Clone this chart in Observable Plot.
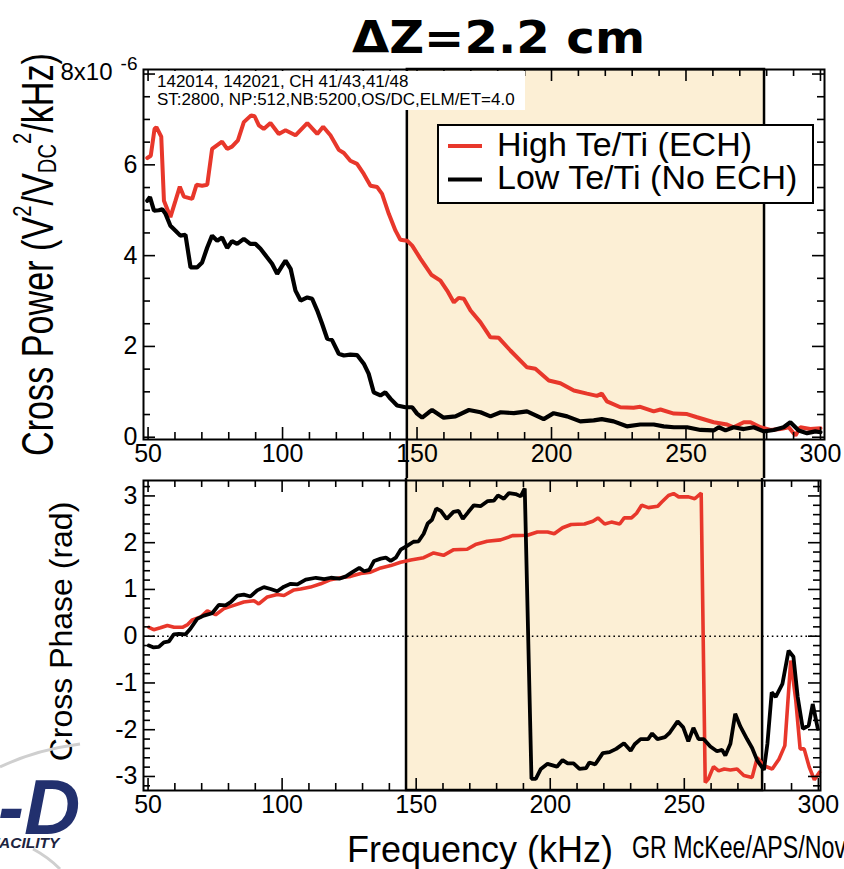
<!DOCTYPE html>
<html>
<head>
<meta charset="utf-8">
<script src="https://cdn.jsdelivr.net/npm/d3@7"></script>
<script src="https://cdn.jsdelivr.net/npm/@observablehq/plot@0.6"></script>
<style>
  body { margin: 0; background: #fff; }
  #chart { position: relative; width: 844px; height: 869px; overflow: hidden; background: #fff;
           font-family: "Liberation Sans", Arial, Helvetica, sans-serif; }
  #chart > svg { position: absolute; left: 0; }
</style>
</head>
<body>
<div id="chart"></div>
<script>
// ---- Data: cross power (units of 1e-6 V^2/V_DC^2/kHz) and cross phase (rad) vs frequency (kHz)
const seriesNames = ["High Te/Ti (ECH)", "Low Te/Ti (No ECH)"];
const seriesColors = ["#e8372b", "#000000"];

const powerEch = [[49.7,6.15],[51.0,6.2],[52.4,6.79],[53.1,6.83],[54.9,6.62],[55.9,5.21],[58.3,4.85],[60.2,5.21],[61.8,5.52],[63.3,5.30],[66.4,5.25],[68.0,5.56],[70.1,5.54],[72.0,5.56],[73.8,6.35],[77.5,6.51],[79.4,6.35],[81.2,6.40],[83.4,6.54],[85.6,6.94],[88.3,7.09],[89.6,7.07],[91.2,6.87],[93.0,6.79],[95.5,6.92],[98.6,6.68],[101.1,6.76],[104.8,6.65],[109.2,6.92],[112.9,6.68],[115.1,6.84],[117.8,6.65],[120.9,6.33],[122.8,6.26],[125.2,6.09],[127.7,6.02],[130.2,5.80],[132.7,5.54],[135.2,5.51],[137.0,5.36],[139.5,4.92],[142.0,4.55],[143.8,4.35],[146.3,4.33],[148.2,4.22],[151.3,3.93],[155.3,3.58],[158.7,3.45],[161.2,3.23],[163.7,2.97],[165.5,3.07],[167.4,3.05],[169.9,2.79],[173.6,2.53],[177.3,2.20],[180.4,2.19],[184.7,1.91],[190.9,1.54],[194.0,1.51],[199.0,1.25],[203.3,1.19],[208.3,1.03],[213.2,0.96],[216.9,0.91],[218.7,0.96],[220.6,0.79],[225.6,0.66],[230.5,0.65],[233.0,0.67],[238.0,0.57],[240.5,0.61],[245.5,0.52],[250.4,0.51],[254.1,0.44],[260.3,0.33],[265.3,0.28],[267.7,0.22],[271.5,0.33],[274.0,0.33],[277.7,0.22],[281.4,0.16],[285.1,0.18],[288.2,0.22],[290.7,0.04],[292.5,0.22],[296.2,0.18],[300.0,0.20]];

const powerNoEch = [[49.7,5.21],[50.7,5.29],[52.2,4.99],[54.0,5.0],[55.3,5.02],[56.5,4.92],[58.3,4.66],[60.2,4.55],[62.0,4.44],[63.9,4.46],[65.8,3.74],[68.2,3.74],[70.1,3.85],[72.0,4.18],[73.8,4.44],[75.7,4.33],[77.5,4.40],[79.4,4.17],[81.2,4.32],[83.1,4.26],[85.6,4.37],[88.0,4.26],[89.9,4.26],[91.8,4.15],[94.3,3.96],[96.1,3.82],[98.0,3.60],[99.9,3.78],[101.1,3.89],[103.0,3.71],[104.8,3.23],[106.7,3.01],[109.2,3.08],[111.0,3.05],[112.9,2.79],[114.7,2.50],[116.6,2.17],[118.4,2.14],[120.9,1.84],[122.8,1.80],[125.2,1.82],[127.7,1.81],[130.2,1.62],[132.0,1.40],[133.9,0.99],[136.4,0.92],[138.2,0.99],[140.1,0.85],[142.6,0.70],[145.7,0.66],[148.2,0.66],[150.0,0.52],[151.9,0.43],[154.4,0.55],[155.6,0.60],[159.9,0.43],[164.3,0.46],[169.3,0.60],[173.6,0.55],[177.3,0.46],[181.1,0.55],[186.0,0.53],[190.9,0.57],[197.1,0.40],[200.8,0.53],[205.8,0.46],[210.7,0.35],[215.7,0.37],[218.7,0.40],[223.1,0.35],[228.0,0.24],[233.0,0.28],[238.0,0.28],[241.7,0.24],[245.5,0.22],[250.4,0.22],[255.4,0.16],[260.3,0.15],[262.2,0.22],[264.7,0.15],[267.7,0.22],[271.5,0.18],[275.2,0.22],[278.9,0.13],[282.6,0.16],[286.3,0.22],[288.8,0.33],[291.9,0.15],[295.0,0.09],[298.1,0.13],[300.0,0.11]];

const phaseEch = [[50.3,0.19],[52.1,0.14],[54.6,0.18],[57.2,0.23],[59.7,0.19],[62.8,0.19],[64.6,0.24],[66.5,0.35],[69.6,0.41],[72.1,0.54],[75.2,0.46],[78.3,0.59],[82.0,0.66],[85.7,0.73],[89.5,0.76],[91.3,0.69],[94.5,0.84],[98.2,0.89],[100.7,0.87],[104.4,0.99],[106.9,1.01],[110.6,1.05],[114.4,1.12],[118.1,1.21],[121.8,1.25],[125.6,1.28],[129.3,1.34],[133.0,1.37],[136.8,1.46],[140.5,1.51],[144.2,1.58],[148.0,1.63],[152.8,1.68],[156.5,1.78],[160.2,1.73],[164.0,1.85],[169.0,1.86],[172.1,1.96],[176.5,2.03],[181.5,2.06],[185.9,2.15],[191.5,2.16],[195.2,2.23],[199.0,2.23],[201.5,2.19],[204.6,2.32],[207.8,2.39],[212.8,2.40],[215.9,2.46],[217.8,2.53],[220.3,2.40],[222.8,2.44],[225.9,2.40],[227.6,2.53],[230.3,2.53],[232.2,2.63],[234.1,2.80],[236.6,2.75],[240.1,2.78],[241.6,2.87],[244.1,3.01],[246.0,3.05],[247.9,2.98],[251.6,2.98],[253.9,2.94],[256.3,3.06],[257.8,-3.13],[259.0,-3.05],[260.9,-2.79],[262.8,-2.88],[264.9,-2.84],[267.2,-2.86],[269.7,-2.84],[272.2,-2.98],[275.3,-3.02],[277.2,-2.60],[279.7,-2.77],[282.8,-2.84],[285.3,-2.63],[287.5,-2.34],[289.7,-0.52],[291.6,-1.38],[293.2,-2.41],[294.7,-2.41],[296.6,-2.80],[298.5,-3.07],[300.4,-2.91]];

const phaseNoEch = [[50.3,-0.20],[52.1,-0.24],[54.0,-0.23],[55.9,-0.13],[57.8,-0.11],[59.6,0.04],[61.5,0.05],[64.0,0.04],[65.8,0.16],[68.3,0.37],[70.8,0.44],[73.9,0.49],[76.4,0.67],[78.9,0.66],[80.8,0.73],[83.3,0.87],[85.7,0.89],[88.2,0.85],[90.7,0.98],[93.2,1.05],[95.7,1.01],[98.2,0.96],[100.7,1.06],[103.2,1.12],[105.7,1.11],[108.8,1.21],[112.6,1.25],[115.7,1.22],[118.2,1.25],[121.3,1.23],[123.8,1.28],[126.2,1.37],[128.8,1.46],[130.6,1.39],[132.5,1.42],[134.3,1.61],[136.8,1.66],[138.7,1.68],[140.5,1.61],[142.4,1.68],[144.2,1.85],[146.6,1.93],[149.0,2.02],[150.9,2.03],[152.8,2.19],[154.3,2.41],[155.9,2.49],[157.5,2.73],[159.2,2.68],[161.4,2.51],[163.9,2.66],[165.8,2.68],[167.4,2.51],[169.5,2.66],[171.5,2.80],[174.0,2.78],[176.7,2.89],[179.0,2.90],[180.5,3.01],[182.7,2.94],[184.6,3.06],[187.1,3.04],[189.0,2.99],[190.5,3.16],[193.0,-3.05],[194.6,-3.05],[196.5,-2.84],[199.0,-2.73],[202.5,-2.79],[204.6,-2.65],[206.5,-2.72],[208.7,-2.72],[210.9,-2.84],[213.4,-2.82],[214.6,-2.70],[216.8,-2.74],[219.6,-2.50],[222.1,-2.48],[224.6,-2.41],[227.5,-2.29],[230.0,-2.45],[231.5,-2.31],[233.7,-2.20],[236.5,-2.20],[238.0,-2.08],[240.0,-2.20],[242.8,-2.16],[244.6,-2.06],[247.5,-1.82],[249.6,-1.95],[251.5,-2.25],[253.4,-1.96],[255.3,-2.20],[257.2,-2.20],[259.7,-2.36],[262.2,-2.46],[264.1,-2.43],[265.3,-2.55],[267.2,-2.30],[269.0,-1.66],[270.9,-1.93],[273.4,-2.20],[275.3,-2.39],[277.2,-2.66],[279.7,-2.86],[281.0,-2.30],[282.6,-1.20],[284.1,-1.30],[286.6,-1.02],[288.9,-0.31],[290.7,-0.44],[292.3,-1.30],[294.2,-1.98],[296.4,-1.91],[297.9,-1.45],[299.8,-1.98]];

// frequency window highlighted in both panels (kHz)
const shadeBand = [146.4, 279.2];

// tick values
const freqTicks = [50, 100, 150, 200, 250, 300];
const freqMinor = [60, 70, 80, 90, 110, 120, 130, 140, 160, 170, 180, 190, 210, 220, 230, 240, 260, 270, 280, 290];
const powerTicks = [0, 2, 4, 6, 8];
const powerMinor = [0.5, 1, 1.5, 2.5, 3, 3.5, 4.5, 5, 5.5, 6.5, 7, 7.5];
const phaseTicks = [-3, -2, -1, 0, 1, 2, 3];
const phaseMinor = [-3.2, -2.8, -2.6, -2.4, -2.2, -1.8, -1.6, -1.4, -1.2, -0.8, -0.6, -0.4, -0.2,
                    0.2, 0.4, 0.6, 0.8, 1.2, 1.4, 1.6, 1.8, 2.2, 2.4, 2.6, 2.8, 3.2];

const BEIGE = "#fcefd5";
const FONT = '"Liberation Sans", Arial, Helvetica, sans-serif';
const TICK_FONT = 25;
const fx = d => d[0], fy = d => d[1];

// inward ticks on all four sides of a panel frame
function frameTicks(xMajor, xMinor, yMajor, yMinor, W, H) {
  const s = {stroke: "black", strokeWidth: 1.6};
  const mk = (vals, len) => [
    Plot.tickX(vals, {x: d => d, insetTop: H - len, ...s}),
    Plot.tickX(vals, {x: d => d, insetBottom: H - len, ...s})
  ];
  const mky = (vals, len) => [
    Plot.tickY(vals, {y: d => d, insetRight: W - len, ...s}),
    Plot.tickY(vals, {y: d => d, insetLeft: W - len, ...s})
  ];
  return [...mk(xMajor, 12), ...mk(xMinor, 7), ...mky(yMajor, 12), ...mky(yMinor, 7)];
}

const chart = document.getElementById("chart");

// ---- upper panel: cross power
const topH = 478, topM = {l: 143, r: 20, t: 69, b: 39};
const topPlot = Plot.plot({
  width: 844, height: topH,
  marginLeft: topM.l, marginRight: topM.r, marginTop: topM.t, marginBottom: topM.b,
  x: {domain: [48.3, 301.5]},
  y: {domain: [-0.05, 8.1]},
  style: {fontFamily: FONT, fontSize: TICK_FONT + "px", color: "black", background: "transparent", overflow: "hidden"},
  marks: [
    Plot.rect([shadeBand], {x1: d => d[0], x2: d => d[1], y1: -1.5, y2: 8.1, fill: BEIGE, stroke: "black", strokeWidth: 2.5}),
    Plot.line(powerEch, {x: fx, y: fy, stroke: seriesColors[0], strokeWidth: 4, strokeLinejoin: "miter"}),
    Plot.line(powerNoEch, {x: fx, y: fy, stroke: seriesColors[1], strokeWidth: 4.2, strokeLinejoin: "miter"}),
    Plot.frame({stroke: "black", strokeWidth: 2}),
    ...frameTicks(freqTicks, freqMinor, powerTicks, powerMinor, 844 - topM.l - topM.r, topH - topM.t - topM.b),
    Plot.axisX({ticks: freqTicks, tickSize: 0, tickPadding: 5, label: null, fontSize: TICK_FONT}),
    Plot.axisY({ticks: powerTicks.filter(d => d < 8), tickSize: 0, tickPadding: 6, label: null, fontSize: TICK_FONT, tickFormat: d => String(d)}),
    Plot.text([8], {y: d => d, text: () => "8x10", frameAnchor: "left", dx: -31, dy: -2, textAnchor: "end", fontSize: 24}),
    Plot.text([8], {y: d => d, text: () => "-6", frameAnchor: "left", dx: -6, dy: -10, textAnchor: "end", fontSize: 19})
  ]
});
topPlot.style.top = "0px";
chart.appendChild(topPlot);

// ---- lower panel: cross phase
const botTop = 478, botH = 391, botM = {l: 143, r: 24, t: 2, b: 79};
const botPlot = Plot.plot({
  width: 844, height: botH,
  marginLeft: botM.l, marginRight: botM.r, marginTop: botM.t, marginBottom: botM.b,
  x: {domain: [48.3, 300.8]},
  y: {domain: [-3.3, 3.33]},
  style: {fontFamily: FONT, fontSize: TICK_FONT + "px", color: "black", background: "transparent", overflow: "hidden"},
  marks: [
    Plot.rect([shadeBand], {x1: d => d[0], x2: d => d[1], y1: -3.3, y2: 4.5, fill: BEIGE, stroke: "black", strokeWidth: 2.5}),
    Plot.ruleY([0], {stroke: "black", strokeWidth: 1.6, strokeDasharray: "1.6,3.2"}),
    Plot.line(phaseEch, {x: fx, y: fy, stroke: seriesColors[0], strokeWidth: 3.6, strokeLinejoin: "miter"}),
    Plot.line(phaseNoEch, {x: fx, y: fy, stroke: seriesColors[1], strokeWidth: 3.8, strokeLinejoin: "miter"}),
    Plot.frame({stroke: "black", strokeWidth: 2}),
    ...frameTicks(freqTicks, freqMinor, phaseTicks, phaseMinor, 844 - botM.l - botM.r, botH - botM.t - botM.b),
    Plot.axisX({ticks: freqTicks, tickSize: 0, tickPadding: 5, label: null, fontSize: TICK_FONT}),
    Plot.axisY({ticks: phaseTicks, tickSize: 0, tickPadding: 6, label: null, fontSize: TICK_FONT, tickFormat: d => String(d)})
  ]
});
botPlot.style.top = botTop + "px";
chart.appendChild(botPlot);

// ---- titles, legend, run annotation and logo
const ov = d3.create("svg").attr("width", 844).attr("height", 869)
  .style("top", "0px").style("pointer-events", "none")
  .attr("font-family", FONT);

// heading
ov.append("text").attr("x", 352).attr("y", 53)
  .attr("font-family", '"DejaVu Sans", "Liberation Sans", sans-serif')
  .attr("font-size", 45).attr("font-weight", "bold")
  .attr("textLength", 293).attr("lengthAdjust", "spacingAndGlyphs")
  .text("\u0394Z=2.2 cm");

// run annotation box
ov.append("rect").attr("x", 155.5).attr("y", 71).attr("width", 369.5).attr("height", 39).attr("fill", "white");
ov.append("text").attr("x", 157).attr("y", 87).attr("font-size", 17).text("142014, 142021, CH 41/43,41/48");
ov.append("text").attr("x", 157).attr("y", 105).attr("font-size", 17).text("ST:2800, NP:512,NB:5200,OS/DC,ELM/ET=4.0");

// legend
const lg = ov.append("g");
lg.append("rect").attr("x", 438).attr("y", 125).attr("width", 375).attr("height", 78)
  .attr("fill", "white").attr("stroke", "black").attr("stroke-width", 2);
seriesNames.forEach((name, i) => {
  const y = 146 + i * 33.5;
  lg.append("line").attr("x1", 448).attr("x2", 482).attr("y1", y).attr("y2", y)
    .attr("stroke", seriesColors[i]).attr("stroke-width", 4);
  lg.append("text").attr("x", 497).attr("y", y + 9.5).attr("font-size", 34).text(name);
});

// axis titles
const yt = ov.append("text").attr("transform", "translate(53,254.5) rotate(-90)")
  .attr("text-anchor", "middle").attr("font-size", 44)
  .attr("textLength", 403).attr("lengthAdjust", "spacingAndGlyphs");
yt.append("tspan").text("Cross Power (V");
yt.append("tspan").attr("font-size", 26).attr("dy", -22).text("2");
yt.append("tspan").attr("dy", 22).text("/V");
yt.append("tspan").attr("font-size", 26).attr("dy", 3).text("DC");
yt.append("tspan").attr("font-size", 26).attr("dy", -25).text("2");
yt.append("tspan").attr("dy", 22).text("/kHz)");

ov.append("text").attr("transform", "translate(72,631.5) rotate(-90)")
  .attr("text-anchor", "middle").attr("font-size", 32).text("Cross Phase (rad)");

ov.append("text").attr("x", 480).attr("y", 862).attr("text-anchor", "middle")
  .attr("font-size", 36).text("Frequency (kHz)");

ov.append("text").attr("x", 632).attr("y", 858)
  .attr("font-family", '"Liberation Sans Narrow", "Liberation Sans", Arial, sans-serif')
  .attr("font-size", 32).attr("textLength", 214).attr("lengthAdjust", "spacingAndGlyphs")
  .text("GR McKee/APS/Nov");

// facility logo (partly off the left edge)
const logo = ov.append("g");
logo.append("path").attr("d", "M0,767 Q35,750 80,744").attr("fill", "none")
  .attr("stroke", "#cfcfcf").attr("stroke-width", 3);
logo.append("path").attr("d", "M33,849 Q48,857 60,869").attr("fill", "none")
  .attr("stroke", "#cfcfcf").attr("stroke-width", 3);
logo.append("text").attr("x", -2).attr("y", 834).attr("font-size", 78)
  .attr("font-weight", "bold").attr("font-style", "italic").attr("fill", "#22306e").text("-D");
logo.append("text").attr("x", -9.5).attr("y", 848).attr("font-size", 15.5)
  .attr("font-weight", "bold").attr("font-style", "italic").attr("fill", "#1d2440").text("FACILITY");

chart.appendChild(ov.node());
</script>
</body>
</html>
